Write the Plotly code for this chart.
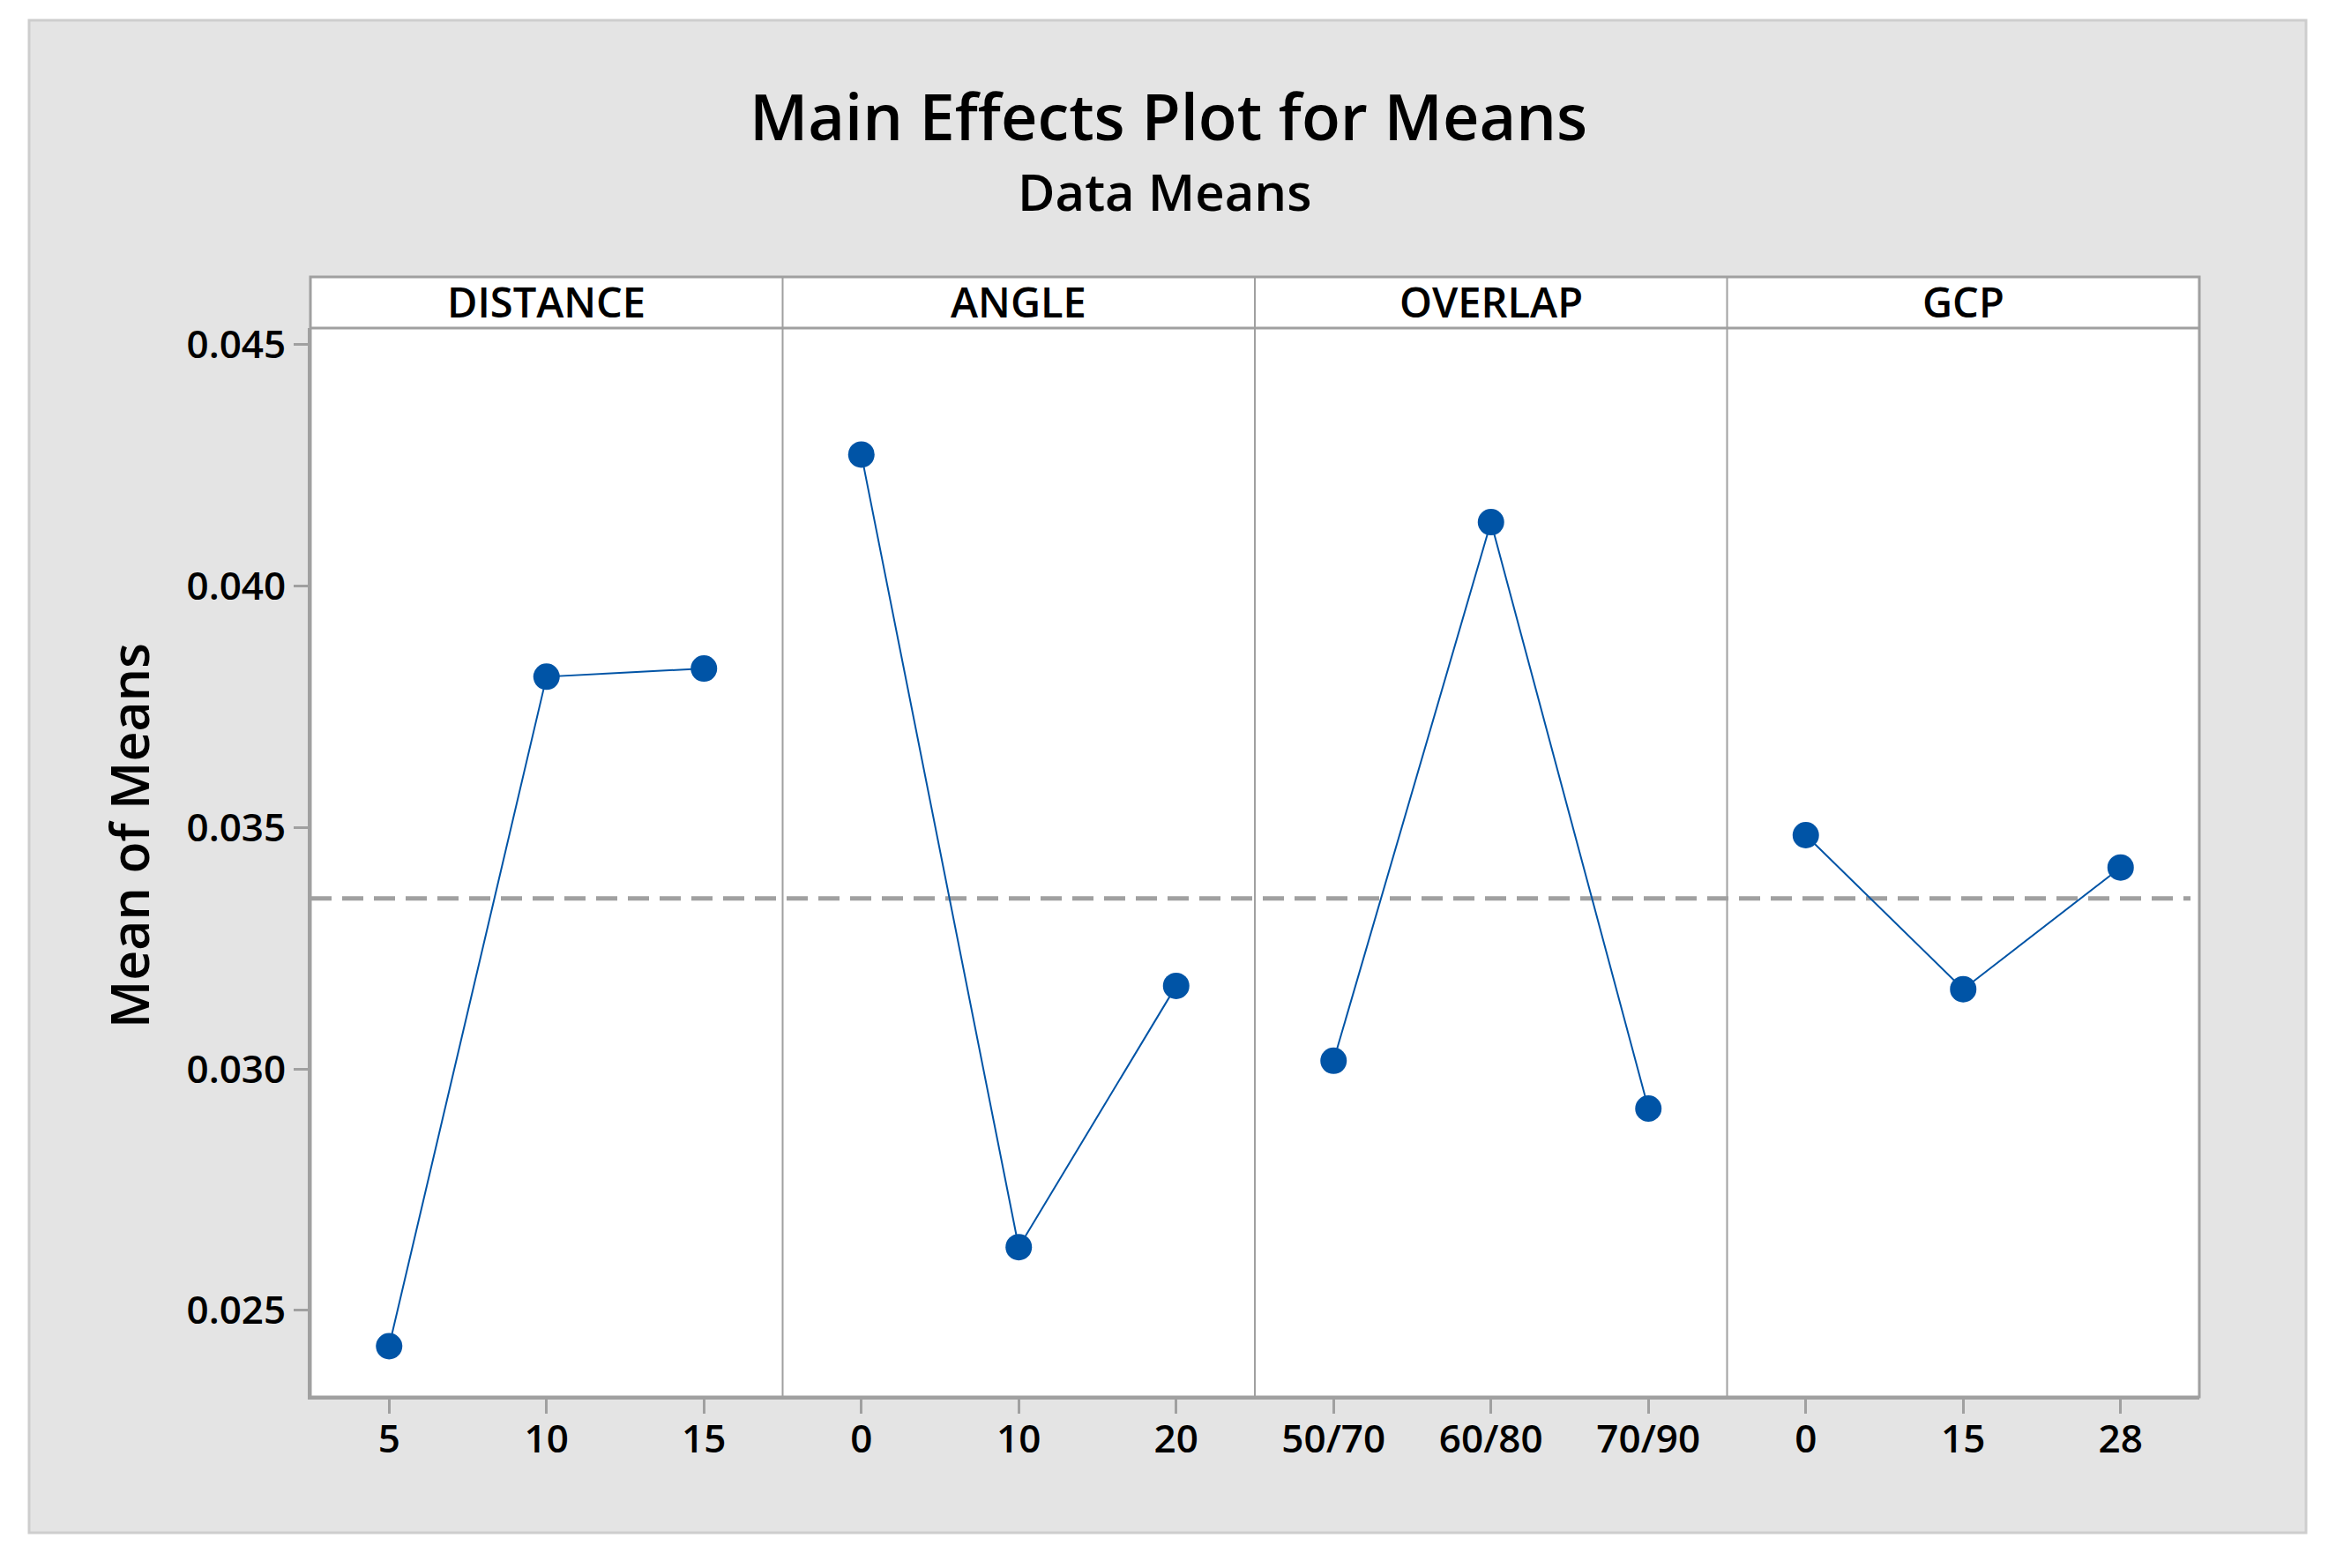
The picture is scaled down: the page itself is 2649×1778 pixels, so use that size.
import plotly.graph_objects as go

# ---------------- data ----------------
factors = ["DISTANCE", "ANGLE", "OVERLAP", "GCP"]
distance_levels = ["5", "10", "15"]
angle_levels = ["0", "10", "20"]
overlap_levels = ["50/70", "60/80", "70/90"]
gcp_levels = ["0", "15", "28"]
distance_means = [0.02426, 0.03812, 0.03829]
angle_means = [0.04272, 0.02631, 0.03172]
overlap_means = [0.03017, 0.04132, 0.02918]
gcp_means = [0.03484, 0.03165, 0.03417]
grand_mean = 0.03353
y_ticks = [0.025, 0.030, 0.035, 0.040, 0.045]
y_tick_labels = ["0.025", "0.030", "0.035", "0.040", "0.045"]

levels_all = [distance_levels, angle_levels, overlap_levels, gcp_levels]
means_all = [distance_means, angle_means, overlap_means, gcp_means]

# ---------------- layout geometry (pixels of the page) ----------------
OFF = 8                       # default body margin of the html page
W, H = 2649 - 2 * OFF, 1778 - 2 * OFF
L, R, T, B = 352 - OFF, 2494 - OFF, 372 - OFF, 1584 - OFF   # data area
PW, PH = R - L, B - T


def px(xp):
    return (xp - OFF - L) / PW


def py(yp):
    return (B - (yp - OFF)) / PH


FONT = "Open Sans"
BLUE = "#0054A6"
AXC = "#A0A0A0"

fig = go.Figure()

n = len(factors)
for i in range(n):
    ax = "x" if i == 0 else f"x{i+1}"
    fig.add_trace(go.Scatter(
        x=levels_all[i], y=means_all[i], xaxis=ax, yaxis="y",
        mode="lines+markers",
        line=dict(color=BLUE, width=2),
        marker=dict(color=BLUE, size=30),
        showlegend=False, hoverinfo="skip",
    ))

layout = dict(
    width=W, height=H,
    margin=dict(l=L, r=W - R, t=T, b=H - B, pad=0),
    paper_bgcolor="white",
    plot_bgcolor="rgba(0,0,0,0)",
    font=dict(family=FONT, color="black"),
    showlegend=False,
)

tickfont = dict(family=FONT, size=44, color="black", weight=600)

for i in range(n):
    key = "xaxis" if i == 0 else f"xaxis{i+1}"
    layout[key] = dict(
        type="category",
        domain=[i / n, (i + 1) / n],
        range=[-0.5, 2.5],
        anchor="y",
        showline=True, linecolor=AXC, linewidth=3,
        ticks="outside", ticklen=16, tickwidth=3, tickcolor=AXC,
        showgrid=False, zeroline=False,
        tickfont=tickfont,
        ticklabelstandoff=-9,
        fixedrange=True,
    )

layout["yaxis"] = dict(
    range=[0.02321, 0.045338],
    anchor="x",
    tickvals=y_ticks, ticktext=y_tick_labels,
    showline=True, linecolor=AXC, linewidth=3,
    ticks="outside", ticklen=16, tickwidth=3, tickcolor=AXC,
    showgrid=False, zeroline=False,
    tickfont=tickfont,
    fixedrange=True,
)

shapes = []
# gray background panel
shapes.append(dict(type="rect", xref="paper", yref="paper",
                   x0=px(33), x1=px(2615), y0=py(1738), y1=py(23),
                   fillcolor="#E4E4E4", line=dict(color="#CDCDCD", width=3),
                   layer="below"))
# white plotting area incl. strip
shapes.append(dict(type="rect", xref="paper", yref="paper",
                   x0=0, x1=1, y0=0, y1=py(314),
                   fillcolor="white", line=dict(width=0), layer="below"))
# grand mean dashed line
shapes.append(dict(type="line", xref="paper", yref="y",
                   x0=0, x1=px(2484), y0=grand_mean, y1=grand_mean,
                   line=dict(color=AXC, width=5, dash="24px,12px"),
                   layer="below"))
# frame
shapes.append(dict(type="rect", xref="paper", yref="paper",
                   x0=0, x1=1, y0=0, y1=py(314),
                   line=dict(color=AXC, width=3), layer="above"))
# strip bottom
shapes.append(dict(type="line", xref="paper", yref="paper",
                   x0=0, x1=1, y0=1, y1=1,
                   line=dict(color=AXC, width=3), layer="above"))
# panel dividers
for i in range(1, n):
    shapes.append(dict(type="line", xref="paper", yref="paper",
                       x0=i / n, x1=i / n, y0=0, y1=py(314),
                       line=dict(color=AXC, width=2), layer="above"))
layout["shapes"] = shapes

annotations = []
for i, f in enumerate(factors):
    annotations.append(dict(text=f, xref="paper", yref="paper",
                            x=(i + 0.5) / n, y=py(342),
                            xanchor="center", yanchor="middle",
                            showarrow=False,
                            font=dict(family=FONT, size=47, color="black", weight=600)))
annotations.append(dict(text="Main Effects Plot for Means", xref="paper", yref="paper",
                        x=px(1325), y=py(131), xanchor="center", yanchor="middle",
                        showarrow=False,
                        font=dict(family=FONT, size=72, color="black", weight=600)))
annotations.append(dict(text="Data Means", xref="paper", yref="paper",
                        x=px(1320), y=py(216), xanchor="center", yanchor="middle",
                        showarrow=False,
                        font=dict(family=FONT, size=58, color="black", weight=600)))
annotations.append(dict(text="Mean of Means", xref="paper", yref="paper",
                        x=px(146), y=py(948), xanchor="center", yanchor="middle",
                        textangle=-90, showarrow=False,
                        font=dict(family=FONT, size=59, color="black", weight=600)))
layout["annotations"] = annotations

fig.update_layout(**layout)
fig.write_html("out.html")
